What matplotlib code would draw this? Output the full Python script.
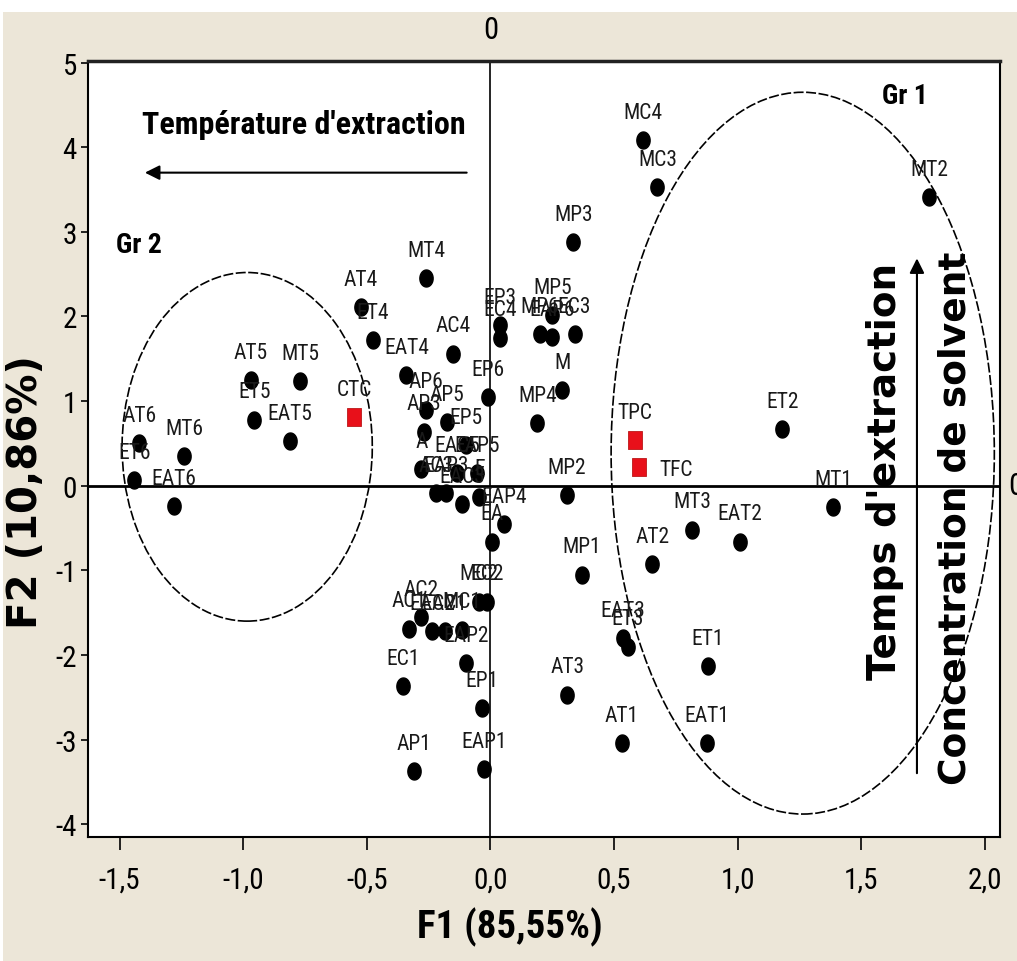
import numpy as np
import matplotlib
matplotlib.use('Agg')
import matplotlib.pyplot as plt
from matplotlib import font_manager
from matplotlib.patches import Ellipse, Rectangle
from matplotlib.path import Path

# sample scores on the F1 / F2 plane
labels = ['AT6', 'ET6', 'MT6', 'EAT6', 'AT5', 'ET5', 'MT5', 'EAT5',
          'MT4', 'AT4', 'ET4', 'EAT4', 'AC4', 'EP3', 'EC4', 'MP5', 'MP6', 'EAP6', 'EC3',
          'M', 'MP4', 'EP6', 'AP6', 'AP5', 'AP3', 'EP5', 'A', 'EAC5', 'EAP5',
          'AC3', 'EAP3', 'EAC3', 'E', 'EAP4', 'EA', 'MP2', 'MP1',
          'MC2', 'EC2', 'AC2', 'AC1', 'EAC2', 'EAC1', 'MC1', 'EAP2', 'EC1', 'EP1',
          'AP1', 'EAP1', 'AT3', 'AT1', 'EAT1', 'ET1', 'EAT3', 'ET3', 'AT2', 'MT3',
          'EAT2', 'MT1', 'ET2', 'MP3', 'MC3', 'MC4', 'MT2']
f1 = [-1.42, -1.44, -1.24, -1.28, -0.97, -0.955, -0.77, -0.81,
      -0.26, -0.525, -0.475, -0.34, -0.15, 0.04, 0.04, 0.25, 0.20, 0.25, 0.34,
      0.29, 0.19, -0.01, -0.26, -0.175, -0.27, -0.10, -0.28, -0.135, -0.055,
      -0.22, -0.18, -0.115, -0.045, 0.055, 0.005, 0.31, 0.37,
      -0.045, -0.015, -0.28, -0.33, -0.235, -0.185, -0.115, -0.10, -0.355, -0.035,
      -0.31, -0.025, 0.31, 0.53, 0.875, 0.88, 0.535, 0.555, 0.655, 0.815,
      1.01, 1.385, 1.18, 0.335, 0.675, 0.615, 1.775]
f2 = [0.50, 0.07, 0.35, -0.24, 1.25, 0.78, 1.24, 0.53,
      2.45, 2.11, 1.72, 1.31, 1.56, 1.90, 1.75, 2.02, 1.79, 1.76, 1.79,
      1.13, 0.74, 1.05, 0.90, 0.755, 0.64, 0.48, 0.20, 0.15, 0.15,
      -0.09, -0.09, -0.22, -0.13, -0.45, -0.66, -0.11, -1.05,
      -1.37, -1.37, -1.55, -1.69, -1.72, -1.72, -1.70, -2.10, -2.37, -2.63,
      -3.37, -3.35, -2.47, -3.04, -3.04, -2.13, -1.80, -1.90, -0.93, -0.52,
      -0.66, -0.25, 0.67, 2.88, 3.53, 4.08, 3.41]

# contents projected as supplementary points
var_labels = ['CTC', 'TPC', 'TFC']
var_f1 = [-0.551, 0.583, 0.599]
var_f2 = [0.814, 0.542, 0.224]

xticks = [-1.5, -1.0, -0.5, 0.0, 0.5, 1.0, 1.5, 2.0]
yticks = [-4, -3, -2, -1, 0, 1, 2, 3, 4, 5]


def first_font(names):
    for name in names:
        try:
            font_manager.findfont(font_manager.FontProperties(family=name),
                                  fallback_to_default=False)
            return name
        except ValueError:
            pass
    return 'DejaVu Sans'


narrow = [first_font(['Liberation Sans Narrow', 'Roboto Condensed', 'Noto Sans Condensed',
                      'Open Sans Condensed', 'Liberation Sans']), 'DejaVu Sans']
bold = ['DejaVu Sans']

fig = plt.figure(figsize=(10.17, 9.62), dpi=100, facecolor='#ece6d8')
fig.patches.append(Rectangle((0, 0.987), 1, 0.013, transform=fig.transFigure,
                             facecolor='white', edgecolor='none'))
fig.patches.append(Rectangle((0, 0), 0.003, 1, transform=fig.transFigure,
                             facecolor='white', edgecolor='none'))
ax = fig.add_axes([0.0865, 0.129, 0.8968, 0.8066])
ax.set_facecolor('white')

ax.axhline(0, color='black', lw=2.0, zorder=1)
ax.axvline(0, color='black', lw=1.2, zorder=1)

# group outlines
ax.add_patch(Ellipse((-0.984, 0.46), 1.012, 4.12, fill=False, ec='black',
                     lw=1.2, ls=(0, (6, 1.5)), zorder=1))
ax.add_patch(Ellipse((1.263, 0.385), 1.55, 8.53, fill=False, ec='black',
                     lw=1.2, ls=(0, (6, 1.5)), zorder=1))

t = np.linspace(0, 2 * np.pi, 41)
dot = Path(np.column_stack([np.cos(t), 1.28 * np.sin(t)]))
sq = Path([[-1, -1.35], [1, -1.35], [1, 1.35], [-1, 1.35], [-1, -1.35]])

ax.scatter(f1, f2, s=150, marker=dot, color='black', zorder=3)
ax.scatter(var_f1, var_f2, s=170, marker=sq, color='#e8101a',
           edgecolors='#b00000', linewidths=0.5, zorder=3)

for name, x, y in zip(labels + var_labels, f1 + var_f1, f2 + var_f2):
    off = (27, -2) if name == 'TFC' else (0, 20)
    ax.annotate(name, (x, y), xytext=off, textcoords='offset points',
                ha='center', va='center', fontsize=15.5, family=narrow,
                color='#1a1a1a', zorder=4)

# direction arrows
ax.annotate('', xy=(-1.409, 3.70), xytext=(-0.085, 3.70),
            arrowprops=dict(arrowstyle='-|>', lw=1.5, color='black', mutation_scale=22))
ax.annotate('', xy=(1.725, 2.72), xytext=(1.725, -3.43),
            arrowprops=dict(arrowstyle='-|>', lw=1.5, color='black', mutation_scale=22))
ax.text(-0.753, 4.27, "Température d'extraction", ha='center', va='center',
        fontsize=23, fontweight='bold', family=narrow)
ax.text(1.595, 0.18, "Temps d'extraction", rotation=90, ha='center', va='center',
        fontsize=28, fontweight='bold', family=bold)
ax.text(1.879, -0.37, 'Concentration de solvent', rotation=90, ha='center', va='center',
        fontsize=27, fontweight='bold', family=bold)
ax.text(1.676, 4.61, 'Gr 1', ha='center', va='center', fontsize=20,
        fontweight='bold', family=narrow)
ax.text(-1.421, 2.854, 'Gr 2', ha='center', va='center', fontsize=20,
        fontweight='bold', family=narrow)

# zero-line markers outside the frame
ax.annotate('0', (0.0, 5.02), xytext=(0, 12), textcoords='offset points',
            ha='center', va='bottom', fontsize=22, family=narrow, annotation_clip=False)
ax.text(1.009, 0.0, '0', ha='left', va='center', fontsize=22, family=narrow,
        transform=ax.get_yaxis_transform(), clip_on=False)

ax.set_xlim(-1.628, 2.061)
ax.set_ylim(-4.15, 5.02)
ax.set_xticks(xticks)
ax.set_xticklabels([('%.1f' % v).replace('.', ',') for v in xticks],
                   fontsize=21, family=narrow)
ax.set_yticks(yticks)
ax.set_yticklabels([str(v) for v in yticks], fontsize=21, family=narrow)
ax.tick_params(axis='x', direction='out', length=9, width=1.2, pad=12)
ax.tick_params(axis='y', direction='out', length=5, width=1.2, pad=3)

ax.set_xlabel('F1 (85,55%)', fontsize=28, fontweight='bold', family=narrow)
ax.xaxis.set_label_coords(0.463, -0.09)
ax.set_ylabel('F2 (10,86%)', fontsize=29, fontweight='bold', family=bold)
ax.yaxis.set_label_coords(-0.046, 0.446)

for side in ['left', 'right', 'bottom']:
    ax.spines[side].set_linewidth(1.5)
ax.spines['top'].set_linewidth(2.5)
ax.spines['top'].set_color('#222222')

fig.savefig('out.png', dpi=100, facecolor=fig.get_facecolor())
